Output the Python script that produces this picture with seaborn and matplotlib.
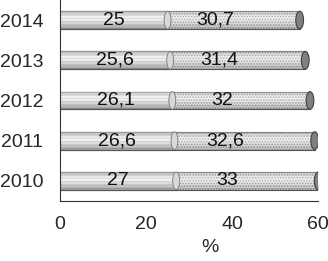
import numpy as np
import matplotlib
matplotlib.use("Agg")
import matplotlib.pyplot as plt
from matplotlib.patches import Ellipse
import seaborn as sns

# data
years = ["2014", "2013", "2012", "2011", "2010"]
part_a = [25, 25.6, 26.1, 26.6, 27]
part_b = [30.7, 31.4, 32, 32.6, 33]
xticks = [0, 20, 40, 60]

sns.set_style("white")
plt.rcParams["font.family"] = ["Liberation Sans", "DejaVu Sans"]
plt.rcParams["hatch.linewidth"] = 0.8

totals = [a + b for a, b in zip(part_a, part_b)]
fs = 14

fig = plt.figure(figsize=(3.28, 2.61), dpi=100)
ax = fig.add_axes([0.183, 0.23, 0.787, 0.77])

bh = 0.44
sns.barplot(x=totals, y=years, orient="h", color="#e2e2e2", width=bh,
            edgecolor="#555555", linewidth=0.8, ax=ax)
for p in ax.patches:
    p.set_hatch("......")
    p.set_edgecolor("#555555")
n_b = len(ax.patches)
sns.barplot(x=part_a, y=years, orient="h", color="#cfcfcf", width=bh,
            edgecolor="#555555", linewidth=0.8, ax=ax)
for p in ax.patches[n_b:]:
    p.set_hatch("-----")

# cylinder shading
grad = np.concatenate([np.linspace(0.55, 0.0, 6), np.linspace(0.0, 0.65, 10)])
grad = grad.reshape(-1, 1)
for p in list(ax.patches):
    x0, y0 = p.get_x(), p.get_y()
    w, h = p.get_width(), p.get_height()
    im = ax.imshow(grad, cmap="Greys", vmin=0, vmax=1.3, alpha=0.55,
                   extent=[x0, x0 + w, y0 + h, y0], aspect="auto", zorder=p.get_zorder() + 0.1)
    im.set_clip_path(p)

# end caps and value labels
for i, (a, b, t) in enumerate(zip(part_a, part_b, totals)):
    ax.add_patch(Ellipse((a, i), 1.6, bh, facecolor="#d8d8d8", edgecolor="#777777",
                         linewidth=0.6, zorder=4))
    ax.add_patch(Ellipse((t, i), 1.8, bh, facecolor="#808080", edgecolor="#404040",
                         linewidth=0.8, zorder=4))
    ax.text(a / 2, i, f"{a:g}".replace(".", ","), ha="center", va="center",
            fontsize=fs, color="#111111", zorder=5)
    ax.text(a + b * 0.36, i, f"{b:g}".replace(".", ","), ha="center", va="center",
            fontsize=fs, color="#111111", zorder=5)

ax.set_xlim(0, 60)
ax.set_ylim(4.5, -0.5)
ax.set_xticks(xticks)
ax.set_xticklabels([str(v) for v in xticks], fontsize=fs)
ax.set_xlabel("%", fontsize=fs)
ax.xaxis.set_label_coords(0.58, -0.19)
ax.set_ylabel("")
ax.set_yticks(range(len(years)))
ax.set_yticklabels(years, fontsize=fs)
ax.set_yticks(np.arange(-0.5, len(years), 1), minor=True)
ax.tick_params(axis="y", which="major", length=0, pad=12)
ax.tick_params(axis="y", which="minor", length=4, width=0.8, color="#333333", direction="out")
ax.tick_params(axis="x", length=4, width=0.8, color="#333333", direction="out", pad=7)

for s in ["top", "right"]:
    ax.spines[s].set_visible(False)
for s in ["left", "bottom"]:
    ax.spines[s].set_color("#333333")
    ax.spines[s].set_linewidth(0.8)

fig.savefig("out.png", dpi=100)
